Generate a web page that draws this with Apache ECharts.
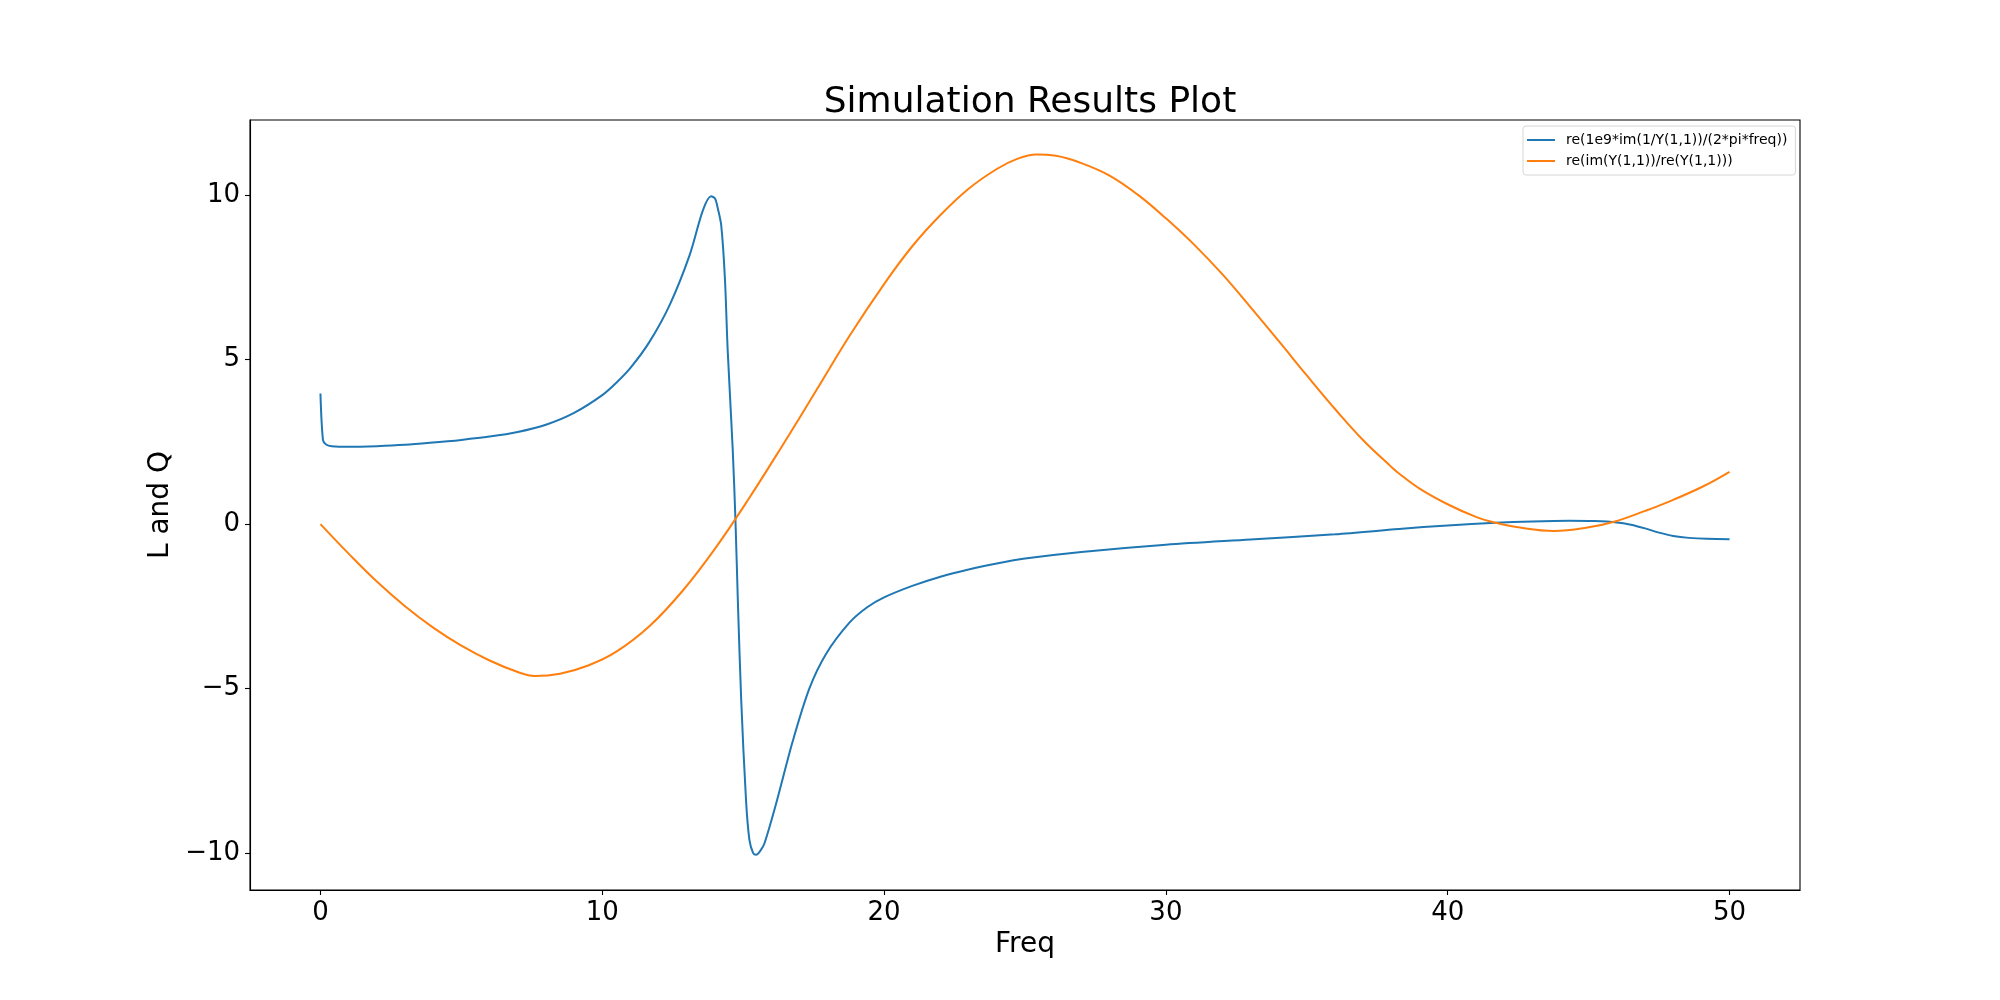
<!DOCTYPE html>
<html><head><meta charset="utf-8">
<script src="https://cdn.jsdelivr.net/npm/echarts@6/dist/echarts.min.js"></script>
<style>html,body{margin:0;padding:0;background:#fff}#c{width:2000px;height:1000px}</style>
</head><body><div id="c"></div>
<script>
const seriesNames = ['re(1e9*im(1/Y(1,1))/(2*pi*freq))', 're(im(Y(1,1))/re(Y(1,1)))'];
const blueFreq = [0, 0.09, 0.2, 0.4, 1, 2, 3, 3.88, 5, 6, 7, 8, 9, 10, 10.5, 11, 11.68, 12.39, 13.1, 13.57, 13.86, 14.0, 14.1, 14.22, 14.35, 14.45, 14.63, 14.73, 14.81, 14.93, 15.1, 15.22, 15.35, 15.46, 15.6, 15.76, 16.17, 16.76, 17.35, 17.94, 18.77, 19.4, 20, 21, 22, 23, 24, 25, 27, 30, 33, 36, 38.27, 40, 41.7, 43, 44.3, 45.2, 46, 46.5, 47, 47.5, 48, 48.56, 49.2, 50];
const blueVal = [3.97, 2.55, 2.42, 2.37, 2.35, 2.37, 2.41, 2.47, 2.56, 2.66, 2.8, 3.02, 3.38, 3.92, 4.3, 4.75, 5.55, 6.66, 8.18, 9.54, 9.97, 9.9, 9.6, 9.09, 7.5, 5.29, 2.25, 0, -2.31, -5.35, -8.39, -9.6, -10.0, -10.06, -9.95, -9.7, -8.5, -6.6, -5.0, -3.95, -3.0, -2.53, -2.23, -1.88, -1.6, -1.38, -1.2, -1.05, -0.85, -0.63, -0.47, -0.31, -0.15, -0.04, 0.04, 0.08, 0.10, 0.09, 0.05, -0.02, -0.13, -0.26, -0.36, -0.42, -0.45, -0.46];
const orangeFreq = [0, 1, 2, 3, 4, 5, 6, 7, 7.6, 8.5, 9.5, 10.5, 11.68, 12.86, 14.04, 15.22, 16.4, 17.59, 18.77, 20, 21, 22, 23, 24, 24.7, 25.4, 26.1, 27, 28, 29, 30, 31, 32, 33, 34, 35, 36, 37, 38, 38.27, 39, 40.05, 41, 41.7, 42.5, 43.77, 45, 45.9, 47, 47.7, 49, 50];
const orangeVal = [0, -0.9, -1.75, -2.5, -3.15, -3.7, -4.15, -4.5, -4.62, -4.55, -4.3, -3.88, -3.1, -2.02, -0.7, 0.8, 2.4, 4.06, 5.72, 7.3, 8.45, 9.4, 10.2, 10.8, 11.1, 11.24, 11.2, 10.98, 10.6, 10.02, 9.3, 8.5, 7.6, 6.6, 5.57, 4.52, 3.5, 2.55, 1.74, 1.54, 1.08, 0.58, 0.22, 0.04, -0.1, -0.21, -0.1, 0.07, 0.4, 0.63, 1.12, 1.59];
const xTicks = [0, 10, 20, 30, 40, 50];
const yTicks = [-10, -5, 0, 5, 10];
const titleText = 'Simulation Results Plot';
const xName = 'Freq';
const yName = 'L and Q';

const font = 'DejaVu Sans';
const chart = echarts.init(document.getElementById('c'), null, {renderer: 'canvas'});
const pairs = (xs, ys) => xs.map((x, i) => [x, ys[i]]);
chart.setOption({
  animation: false,
  backgroundColor: '#fff',
  title: {text: titleText, left: 1025, top: 80, textAlign: 'center',
    textStyle: {fontFamily: font, fontSize: 36, fontWeight: 'normal', color: '#000'}},
  legend: {
    orient: 'vertical', left: 1523, top: 126, padding: [7, 8, 7, 4],
    itemWidth: 28, itemHeight: 2, itemGap: 7, icon: 'rect',
    borderColor: '#d6d6d6', borderWidth: 1, borderRadius: 3, backgroundColor: 'rgba(255,255,255,0.8)',
    textStyle: {fontFamily: font, fontSize: 14, color: '#000', padding: [0, 0, 0, 6]},
    data: seriesNames
  },
  grid: {left: 250, right: 200, top: 120, bottom: 110, show: true, borderColor: '#000', borderWidth: 1.1, containLabel: false},
  xAxis: {
    type: 'value', min: -2.5, max: 52.5,
    name: xName, nameLocation: 'middle', nameGap: 38,
    nameTextStyle: {fontFamily: font, fontSize: 28, color: '#000'},
    axisLine: {show: true, onZero: false, lineStyle: {color: '#000', width: 1.1}},
    axisTick: {show: true, customValues: xTicks, length: 5, lineStyle: {color: '#000', width: 1.1}},
    axisLabel: {show: true, customValues: xTicks, margin: 10, fontFamily: font, fontSize: 26, color: '#000'},
    splitLine: {show: false}
  },
  yAxis: {
    type: 'value', min: -11.13, max: 12.29,
    name: yName, nameLocation: 'middle', nameGap: 70, nameRotate: 90,
    nameTextStyle: {fontFamily: font, fontSize: 28, color: '#000'},
    axisLine: {show: true, onZero: false, lineStyle: {color: '#000', width: 1.1}},
    axisTick: {show: true, customValues: yTicks, length: 5, lineStyle: {color: '#000', width: 1.1}},
    axisLabel: {show: true, customValues: yTicks, margin: 10, fontFamily: font, fontSize: 26, color: '#000',
      formatter: v => String(v).replace('-', '\u2212')},
    splitLine: {show: false}
  },
  series: [
    {name: seriesNames[0], type: 'line', data: pairs(blueFreq, blueVal), showSymbol: false, smooth: 0.3,
      lineStyle: {color: '#1f77b4', width: 2}, itemStyle: {color: '#1f77b4'}},
    {name: seriesNames[1], type: 'line', data: pairs(orangeFreq, orangeVal), showSymbol: false, smooth: 0.4,
      lineStyle: {color: '#ff7f0e', width: 2}, itemStyle: {color: '#ff7f0e'}}
  ]
});
</script>
</body></html>
